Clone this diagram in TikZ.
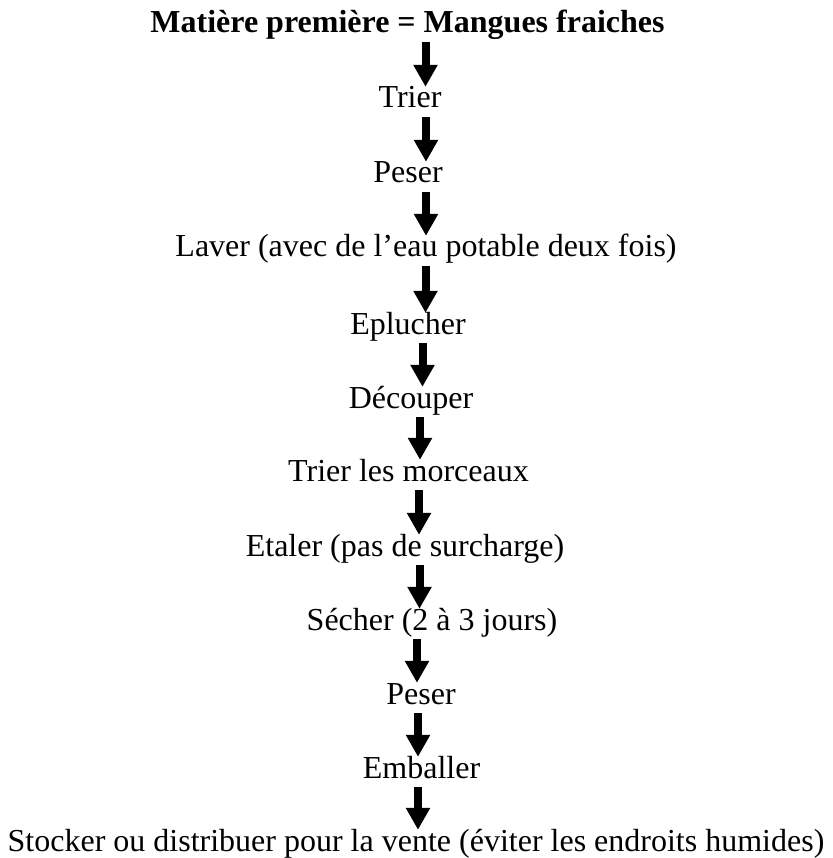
\documentclass[tikz,border=0pt]{standalone}
\usepackage{fontspec}
\setmainfont{Liberation Serif}
\usetikzlibrary{arrows.meta}
\begin{document}
\begin{tikzpicture}[x=1pt,y=-1pt,font=\fontsize{32}{38}\selectfont,
  stage/.style={anchor=base,inner sep=0pt,text height=21pt,text depth=9pt},
  flow/.style={line width=8pt,-{Triangle[width=23pt,length=22pt]}}]
  % Coordinates are pixels of the sheet, y counted downwards from the top edge.
  \useasboundingbox (0,0) rectangle (832,858);
  \node[stage] (s0) at (407.5,33) {\bfseries Matière première = Mangues fraiches};
  \node[stage] (s1) at (410,108) {Trier};
  \node[stage] (s2) at (408,183) {Peser};
  \node[stage] (s3) at (426,257) {Laver (avec de l’eau potable deux fois)};
  \node[stage] (s4) at (408,334) {Eplucher};
  \node[stage] (s5) at (411,408) {Découper};
  \node[stage] (s6) at (408.5,481) {Trier les morceaux};
  \node[stage] (s7) at (405,556) {Etaler (pas de surcharge)};
  \node[stage] (s8) at (432,630) {Sécher (2 à 3 jours)};
  \node[stage] (s9) at (421,704) {Peser};
  \node[stage] (s10) at (421.5,778) {Emballer};
  \node[stage] (s11) at (416,851) {Stocker ou distribuer pour la vente (éviter les endroits humides)};
  \foreach \a/\b/\x in {s0/s1/425.5,s1/s2/426,s2/s3/426,s3/s4/425.5,s4/s5/422.5,s5/s6/420,
                        s6/s7/419,s7/s8/419.5,s8/s9/417,s9/s10/418,s10/s11/418}{
    \draw[flow] (\a.south -| \x,0) -- (\b.north -| \x,0);}
\end{tikzpicture}
\end{document}
